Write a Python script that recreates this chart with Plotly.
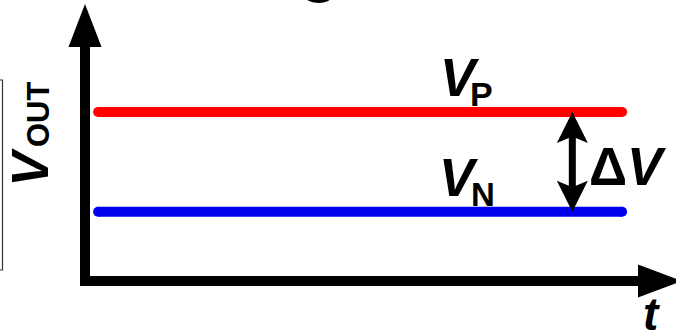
import plotly.graph_objects as go

# ---- data (abstract schematic values) ----
t_span = [0.25, 10.25]          # time span of the two output levels
V_P_level = [1.0, 1.0]          # positive output level
V_N_level = [0.41, 0.41]        # negative output level
t_delta = 9.3                   # where the ΔV difference is marked
series_names = ["V_P", "V_N"]
series_colors = ["#ff0000", "#0000ee"]

W, H = 676, 333
# pixel geometry of the axes (origin in pixels) and scale
ox, oy = 85.0, 281.0
kx, ky = 52.4, 169.0
x_range = [-ox / kx, (W - ox) / kx]
y_range = [-(H - oy) / ky, oy / ky]

def px(xp):
    return (xp - ox) / kx

def py(yp):
    return (oy - yp) / ky

fig = go.Figure()
for vals, name, col in [(V_P_level, series_names[0], series_colors[0]),
                        (V_N_level, series_names[1], series_colors[1])]:
    fig.add_trace(go.Scatter(x=t_span, y=vals, mode="lines+markers", name=name,
                             line=dict(color=col, width=10),
                             marker=dict(color=col, size=10, line=dict(width=0)),
                             hoverinfo="skip"))

shapes = []
# axes (L shape)
shapes.append(dict(type="path", xref="x", yref="y",
                   path=f"M {px(85)},{py(44)} L {px(85)},{py(281)} L {px(640)},{py(281)}",
                   line=dict(color="black", width=10)))
# y arrowhead
shapes.append(dict(type="path", xref="x", yref="y",
                   path=f"M {px(85)},{py(4)} L {px(68.5)},{py(47)} L {px(101.5)},{py(47)} Z",
                   fillcolor="black", line=dict(width=0)))
# x arrowhead
shapes.append(dict(type="path", xref="x", yref="y",
                   path=f"M {px(682)},{py(281)} L {px(638)},{py(264.5)} L {px(638)},{py(297.5)} Z",
                   fillcolor="black", line=dict(width=0)))
# double arrow between levels
top, bot = V_P_level[0], V_N_level[0]
hw, sw = 15.5 / kx, 3.5 / kx
hl, nl = 31 / ky, 26 / ky
xc = t_delta
dpath = (f"M {xc},{top} L {xc-hw},{top-hl} L {xc-sw},{top-nl} L {xc-sw},{bot+nl} "
         f"L {xc-hw},{bot+hl} L {xc},{bot} L {xc+hw},{bot+hl} L {xc+sw},{bot+nl} "
         f"L {xc+sw},{top-nl} L {xc+hw},{top-hl} Z")
shapes.append(dict(type="path", xref="x", yref="y", path=dpath,
                   fillcolor="black", line=dict(width=0)))
# thin frame at the left edge (partially cropped)
shapes.append(dict(type="rect", xref="x", yref="y",
                   x0=px(-10), x1=px(2.5), y0=py(270), y1=py(80),
                   line=dict(color="#333333", width=1.2), fillcolor="rgba(0,0,0,0)"))

fnt = "Arial, Liberation Sans, sans-serif"
ann = []
def label(text, xp, yp, size, angle=0, xanchor="center", yanchor="middle"):
    ann.append(dict(x=px(xp), y=py(yp), xref="x", yref="y", text=text, showarrow=False,
                    font=dict(family=fnt, size=size, color="black"), textangle=angle,
                    xanchor=xanchor, yanchor=yanchor))

label("<b><i>V</i></b>", 459.5, 77.5, 53)
label("<b>P</b>", 481.5, 93.5, 34)
label("<b><i>V</i></b>", 458.5, 177.5, 53)
label("<b>N</b>", 482.5, 194, 33)
label("<b>Δ<i>V</i></b>", 627.5, 166, 53)
label("<b><i>t</i></b>", 651.5, 313.5, 46)
label("<b><i>V</i></b>", 29.5, 167, 52, angle=-90)
label("<b>OUT</b>", 38, 114, 31, angle=-90)
# bottom of a cropped title glyph above the chart
ann.append(dict(x=318.5 / W, y=1 - 5 / H, xref="paper", yref="paper", text="<b>g</b>",
                showarrow=False, font=dict(family=fnt, size=66, color="black"),
                xanchor="center", yanchor="bottom"))

fig.update_layout(width=W, height=H, margin=dict(l=0, r=0, t=0, b=0),
                  paper_bgcolor="white", plot_bgcolor="white", showlegend=False,
                  shapes=shapes, annotations=ann,
                  xaxis=dict(range=x_range, visible=False, fixedrange=True),
                  yaxis=dict(range=y_range, visible=False, fixedrange=True))
fig.write_html("out.html", config={"displayModeBar": False, "staticPlot": True},
               post_script="document.body.style.margin='0';document.body.style.overflow='hidden';")
